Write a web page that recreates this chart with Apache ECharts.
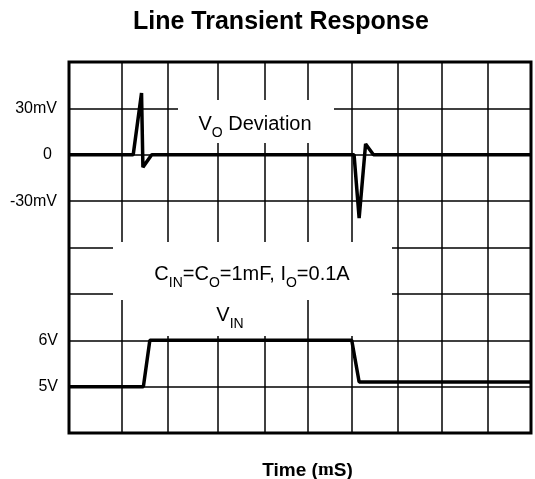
<!DOCTYPE html>
<html>
<head>
<meta charset="utf-8">
<script src="https://cdn.jsdelivr.net/npm/echarts@6/dist/echarts.min.js"></script>
<style>
  html, body { margin: 0; padding: 0; background: #fff; }
  #chart { width: 535px; height: 479px; }
</style>
</head>
<body>
<div id="chart"></div>
<script>
// time in screen divisions (no scale printed on the original)
var voTime = [0, 1.39, 1.57, 1.60, 1.79, 6.17, 6.28, 6.42, 6.59, 10];
var voDeviation = [0, 0, 40, -8, 0, 0, -41, 7, 0, 0];      // mV
var vinTime = [0, 1.61, 1.75, 6.12, 6.28, 10];
var vinLevel = [5, 5, 6, 6, 5.1, 5.1];                       // V
// vertical grid lines of the scope screen
var xGridTicks = [1.14, 2.13, 3.22, 4.24, 5.17, 6.12, 7.12, 8.07, 9.06];
var mvTickLabels = { '30': '30mV', '0': '{z|0}', '-30': '-30mV' };
var vTickLabels = { '5': '5V', '6': '6V' };

var FONT = "'Liberation Sans', Arial, sans-serif";

function pairs(xs, ys) {
  return xs.map(function (x, i) { return [x, ys[i]]; });
}

var chart = echarts.init(document.getElementById('chart'));

var subRich = {
  m: { fontSize: 20, fontFamily: FONT, color: '#000', verticalAlign: 'middle' },
  s: { fontSize: 14, fontFamily: FONT, color: '#000', verticalAlign: 'middle', padding: [18, 0, 0, 0] }
};

chart.setOption({
  animation: false,
  title: {
    text: 'Line Transient Response',
    left: 128,
    top: 5,
    textStyle: { fontSize: 25, fontWeight: 'bold', fontFamily: FONT, color: '#000' }
  },
  grid: {
    left: 69, right: 4, top: 62, bottom: 46,
    outerBoundsMode: 'none',
    containLabel: false,
    show: true, borderColor: '#000', borderWidth: 3
  },
  xAxis: {
    type: 'value', min: 0, max: 10,
    axisLine: { show: false }, axisTick: { show: false },
    axisLabel: { show: false }, splitLine: { show: false },
    name: '{b|Time (}{g|m}{b|S)}',
    nameLocation: 'middle',
    nameGap: 28,
    nameTextStyle: {
      padding: [0, 0, 0, 15],
      rich: {
        b: { fontSize: 19, fontWeight: 'bold', fontFamily: FONT, color: '#000' },
        g: { fontSize: 19, fontWeight: 'bold', fontFamily: "'Liberation Serif', serif", color: '#000' }
      }
    }
  },
  yAxis: [
    {
      type: 'value', min: -180, max: 60, interval: 30,
      axisLine: { show: false }, axisTick: { show: false },
      splitLine: { show: true, lineStyle: { color: '#000', width: 1.5 } },
      axisLabel: {
        margin: 12, fontSize: 16, fontFamily: FONT, color: '#000',
        formatter: function (v) { return mvTickLabels[String(v)] || ''; },
        rich: { z: { fontSize: 16, fontFamily: FONT, color: '#000', padding: [0, 5, 0, 0] } }
      }
    },
    {
      type: 'value', min: 4, max: 12, interval: 1, position: 'left',
      axisLine: { show: false }, axisTick: { show: false },
      splitLine: { show: false },
      axisLabel: {
        margin: 11, fontSize: 16, fontFamily: FONT, color: '#000',
        formatter: function (v) { return vTickLabels[String(v)] || ''; }
      }
    }
  ],
  graphic: [
    { type: 'rect', z: 3, shape: { x: 178, y: 100, width: 156, height: 43 }, style: { fill: '#fff' } },
    { type: 'rect', z: 3, shape: { x: 113, y: 242, width: 279, height: 58 }, style: { fill: '#fff' } },
    { type: 'rect', z: 3, shape: { x: 128, y: 298, width: 172, height: 38 }, style: { fill: '#fff' } },
    { type: 'rect', z: 3, shape: { x: 314, y: 298, width: 48, height: 38 }, style: { fill: '#fff' } },
    {
      type: 'text', z: 4, x: 255, y: 124,
      style: { text: '{m|V}{s|O}{m| Deviation}', rich: subRich, textAlign: 'center', textVerticalAlign: 'middle' }
    },
    {
      type: 'text', z: 4, x: 252, y: 274,
      style: { text: '{m|C}{s|IN}{m|=C}{s|O}{m|=1mF, I}{s|O}{m|=0.1A}', rich: subRich, textAlign: 'center', textVerticalAlign: 'middle' }
    },
    {
      type: 'text', z: 4, x: 230, y: 315,
      style: { text: '{m|V}{s|IN}', rich: subRich, textAlign: 'center', textVerticalAlign: 'middle' }
    }
  ],
  series: [
    {
      name: 'VO Deviation',
      type: 'line',
      xAxisIndex: 0, yAxisIndex: 0,
      z: 10,
      showSymbol: false, symbol: 'none',
      lineStyle: { color: '#000', width: 3.5 },
      data: pairs(voTime, voDeviation),
      markLine: {
        z: 1, silent: true, symbol: 'none',
        label: { show: false },
        lineStyle: { color: '#000', width: 1.5, type: 'solid' },
        data: xGridTicks.map(function (t) { return { xAxis: t }; })
      }
    },
    {
      name: 'VIN',
      type: 'line',
      xAxisIndex: 0, yAxisIndex: 1,
      z: 10,
      showSymbol: false, symbol: 'none',
      lineStyle: { color: '#000', width: 3.5 },
      data: pairs(vinTime, vinLevel)
    }
  ]
});
</script>
</body>
</html>
